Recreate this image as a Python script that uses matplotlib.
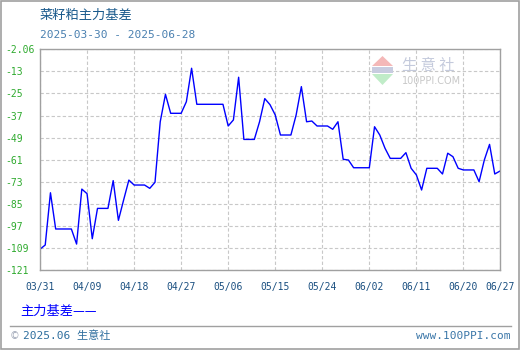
import numpy as np
import pandas as pd
import matplotlib
matplotlib.use('Agg')
import matplotlib.pyplot as plt
from matplotlib.patches import Polygon, Rectangle
from matplotlib.lines import Line2D

# данные: основной базис рапсового шрота, по дням (выходные держат пятничное значение)
dates = pd.date_range('2025-03-31', '2025-06-27', freq='D')
values = [
    -109.7, -107.4, -79.0, -98.7, -98.7, -98.7, -98.7, -106.9, -77.0, -79.5,
    -104.0, -87.5, -87.5, -87.5, -72.4, -94.0, -82.9, -72.1, -74.8, -74.8,
    -74.8, -76.6, -73.3, -40.4, -25.5, -35.8, -35.8, -35.8, -29.5, -11.3,
    -30.9, -30.9, -30.9, -30.9, -30.9, -30.9, -42.7, -39.4, -16.2, -50.0,
    -50.0, -50.0, -40.4, -27.8, -31.1, -36.7, -47.6, -47.6, -47.6, -36.7,
    -21.3, -40.4, -40.0, -42.7, -42.7, -42.7, -44.5, -40.4, -60.8, -61.2,
    -65.4, -65.4, -65.4, -65.4, -43.1, -47.6, -54.8, -60.3, -60.3, -60.3,
    -57.2, -65.7, -69.3, -77.5, -65.7, -65.7, -65.7, -68.8, -57.5, -59.4,
    -65.7, -66.6, -66.6, -66.6, -73.0, -61.2, -52.7, -68.8, -67.2,
]
y_ticks = [-121, -109, -97, -85, -73, -61, -49, -37, -25, -13, -1]
y_labels = ['-121', '-109', '-97', '-85', '-73', '-61', '-49', '-37', '-25', '-13', '-2.06']
x_ticks = list(dates[::9]) + [dates[-1]]
x_labels = [d.strftime('%m/%d') for d in x_ticks]

title = '菜籽粕主力基差'
subtitle = '2025-03-30 - 2025-06-28'
legend_text = '主力基差——'

W, H = 520, 350
mono = ['DejaVu Sans Mono', 'Noto Sans CJK SC']
cjk = ['Noto Sans CJK SC', 'DejaVu Sans']


def fx(x):
    return x / W


def fy(y):
    return 1 - y / H


fig = plt.figure(figsize=(W / 100, H / 100), dpi=100)
ax = fig.add_axes([fx(40), fy(270), fx(500) - fx(40), fy(49.3) - fy(270)])

ax.plot(dates, values, color='#0000ff', lw=1.0)

ax.set_xlim(dates[0], dates[-1])
ax.set_ylim(-121, -1)
ax.set_yticks(y_ticks)
ax.set_yticklabels(y_labels, family=mono, fontsize=7, color='#2eaa2e', ha='left')
ax.set_xticks(x_ticks)
ax.set_xticklabels(x_labels, family=mono, fontsize=7, color='#1a4f80')
ax.tick_params(axis='y', length=0, pad=25.2)
ax.tick_params(axis='x', length=0, pad=8.5)
ax.grid(True, color='#c8c8c8', ls=(0, (3, 2)), lw=0.8)
for s in ax.spines.values():
    s.set_color('#a0a0a0')
    s.set_linewidth(1.0)

# водяной знак
fig.text(fx(402), fy(65.5), '生 意 社', family=cjk, fontsize=11, color='#c4cadc',
         va='center', ha='left', zorder=0)
fig.text(fx(402), fy(81.5), '100PPI.COM', family='DejaVu Sans', fontsize=7, color='#c8c8c8',
         va='center', ha='left', zorder=0)
fig.add_artist(Polygon([[fx(372), fy(66)], [fx(393), fy(66)], [fx(382.5), fy(56)]],
                       closed=True, transform=fig.transFigure, color='#f4b8b8', lw=0))
fig.add_artist(Rectangle((fx(372), fy(73)), fx(21), fy(67) - fy(73),
                         transform=fig.transFigure, color='#c8cce0', lw=0))
fig.add_artist(Polygon([[fx(372), fy(74)], [fx(393), fy(74)], [fx(382.5), fy(85)]],
                       closed=True, transform=fig.transFigure, color='#c0ecc8', lw=0))

# заголовки
fig.text(fx(40), fy(15), title, family=cjk, fontsize=9.5, color='#1a5a8c', va='center', ha='left')
fig.text(fx(40), fy(35), subtitle, family=mono, fontsize=8, color='#4a80b0', va='center', ha='left')

# легенда и подвал
fig.text(fx(20), fy(311), legend_text, family=cjk, fontsize=9.5, color='#0000ff', va='center', ha='left')
fig.add_artist(Line2D([fx(10), fx(511)], [fy(326), fy(326)], transform=fig.transFigure,
                      color='#a0a0a0', lw=1.0))
fig.text(fx(10), fy(336), '©', family='DejaVu Sans', fontsize=7, color='#a0a8b8', va='center', ha='left')
fig.text(fx(23), fy(336), '2025.06 生意社', family=mono, fontsize=8, color='#2e6e9e', va='center', ha='left')
fig.text(fx(510), fy(336), 'www.100PPI.com', family=mono, fontsize=8, color='#3a76a8', va='center', ha='right')

fig.add_artist(Rectangle((0.001, 0.002), 0.997, 0.995, transform=fig.transFigure,
                         fill=False, edgecolor='#a0a0a0', lw=1.2))

fig.savefig('out.png', dpi=100)
